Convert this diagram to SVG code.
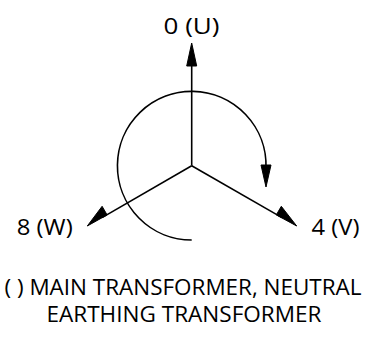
<svg xmlns="http://www.w3.org/2000/svg" width="367" height="338" viewBox="0 0 367 338">
<style>
.ln{stroke:#000;stroke-width:1.6;fill:none}
.ah{fill:#000;stroke:#000;stroke-width:1}
text{font-family:"Open Sans","Liberation Sans",sans-serif;font-size:21px;fill:#000}
</style>
<rect width="367" height="338" fill="#fff"/>
<g id="connectors">
<line class="ln" x1="191.7" y1="165.7" x2="191.7" y2="60"/>
<polygon class="ah" points="191.7,43 186.7,66 196.7,66"/>
<line class="ln" x1="191.7" y1="165.7" x2="282" y2="217.6"/>
<polygon class="ah" points="296.7,226 276.3,214.9 281.3,206.3"/>
<line class="ln" x1="191.7" y1="165.7" x2="102" y2="217.6"/>
<polygon class="ah" points="87.3,226 102.1,206.3 107.1,214.9"/>
<path class="ln" d="M191.7,240 A74.3,74.3 0 1 1 266,168"/>
<polygon class="ah" points="266,187 261,165 271,165"/>
</g>
<g id="label-u"><text x="191.5" y="34" text-anchor="middle" textLength="56" lengthAdjust="spacingAndGlyphs">0 (U)</text></g>
<g id="label-v"><text x="335.5" y="235" text-anchor="middle" textLength="48" lengthAdjust="spacingAndGlyphs">4 (V)</text></g>
<g id="label-w"><text x="44.7" y="235" text-anchor="middle" textLength="56" lengthAdjust="spacingAndGlyphs">8 (W)</text></g>
<g id="caption">
<text x="183" y="295" text-anchor="middle" textLength="357" lengthAdjust="spacingAndGlyphs">( ) MAIN TRANSFORMER, NEUTRAL</text>
<text x="184" y="321.7" text-anchor="middle" textLength="275" lengthAdjust="spacingAndGlyphs">EARTHING TRANSFORMER</text>
</g>
</svg>
